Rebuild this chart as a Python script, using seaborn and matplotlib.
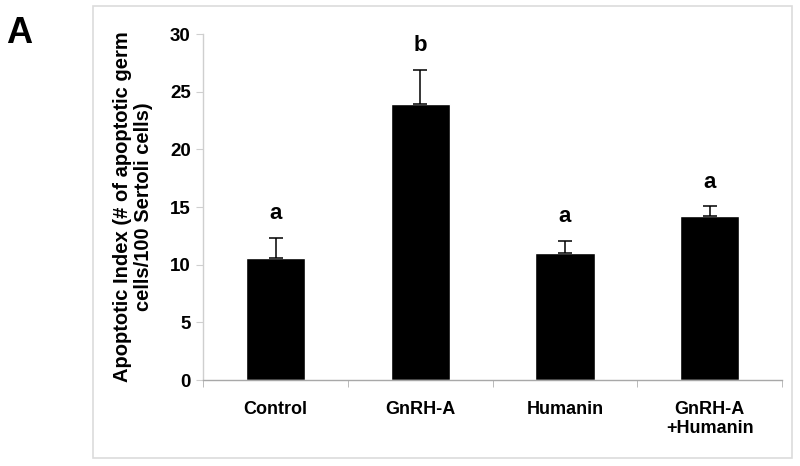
import matplotlib
matplotlib.use("Agg")
import matplotlib.pyplot as plt
import pandas as pd
import seaborn as sns
from matplotlib.patches import Rectangle

groups = ["Control", "GnRH-A", "Humanin", "GnRH-A\n+Humanin"]
means = [10.6, 23.9, 11.05, 14.25]
sem = [1.75, 3.0, 1.0, 0.8]
letters = ["a", "b", "a", "a"]

sns.set_style("white")
plt.rcParams['font.family'] = ['Liberation Sans', 'DejaVu Sans']
plt.rcParams['font.weight'] = 'bold'
plt.rcParams['text.color'] = 'black'
plt.rcParams['axes.labelcolor'] = 'black'

df = pd.DataFrame({"group": groups, "mean": means})

fig = plt.figure(figsize=(8, 4.66), dpi=100)
ax = fig.add_axes([0.254, 0.1845, 0.7235, 0.7425])

sns.barplot(data=df, x="group", y="mean", color="black", width=0.41,
            errorbar=None, ax=ax, saturation=1)
ax.errorbar(range(len(groups)), means, yerr=[[0] * len(sem), sem], fmt="none",
            ecolor="black", elinewidth=1.1, capsize=5, capthick=1.1)

for i, (m, s, l) in enumerate(zip(means, sem, letters)):
    ax.annotate(l, (i, m + s), xytext=(0, 10), textcoords="offset points",
                ha="center", va="bottom", fontsize=16, fontweight="bold")

ax.set_xlim(-0.5, 3.5)
ax.set_ylim(0, 30)
ax.set_yticks(range(0, 31, 5))
ax.set_xlabel("")
ax.set_ylabel("Apoptotic Index (# of apoptotic germ\ncells/100 Sertoli cells)",
              fontsize=14.5, fontweight="bold", labelpad=12, linespacing=1.15)

for side in ["top", "right"]:
    ax.spines[side].set_visible(False)
ax.spines["left"].set_color("#cfcfcf")
ax.spines["bottom"].set_color("#a8a8a8")
ax.spines["left"].set_linewidth(1)
ax.spines["bottom"].set_linewidth(1)

ax.tick_params(axis="y", length=5, color="#cfcfcf", labelcolor="black",
               labelsize=13.5, pad=4, left=True)
ax.tick_params(axis="x", which="major", length=0, labelcolor="black",
               labelsize=13, pad=15)
ax.set_xticks([-0.5, 0.5, 1.5, 2.5, 3.5], minor=True)
ax.tick_params(axis="x", which="minor", length=5, color="#b0b0b0", bottom=True)
for t in ax.get_xticklabels() + ax.get_yticklabels():
    t.set_fontweight("bold")

fig.patches.append(Rectangle((0.116, 0.017), 0.874, 0.970, transform=fig.transFigure,
                             fill=False, edgecolor="#dcdcdc", linewidth=1.2))
fig.text(0.008, 0.928, "A", fontsize=26, fontweight="heavy", ha="left", va="center")

fig.savefig("out.png", dpi=100)
